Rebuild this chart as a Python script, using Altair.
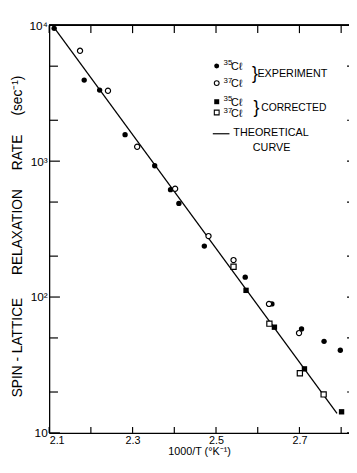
import altair as alt
import pandas as pd

# ---- data ----
exp35_x = [2.112, 2.184, 2.221, 2.282, 2.353, 2.391, 2.411, 2.472, 2.570, 2.634, 2.705, 2.759, 2.798]
exp35_y = [9500, 3950, 3335, 1567, 925, 617, 489, 237, 140, 89, 58.3, 47.2, 40.6]
exp37_x = [2.174, 2.241, 2.311, 2.402, 2.482, 2.542, 2.627, 2.699]
exp37_y = [6490, 3296, 1277, 627, 281, 187, 89, 54.3]
cor35_x = [2.572, 2.640, 2.712, 2.801]
cor35_y = [112, 60, 29.6, 14.3]
cor37_x = [2.542, 2.628, 2.701, 2.758]
cor37_y = [167, 63.7, 27.5, 19.2]
theory_x = [2.108, 2.79]
theory_y = [10000, 13.9]

x_ticks = [2.1, 2.2, 2.3, 2.4, 2.5, 2.6, 2.7, 2.8]
x_labels = [2.1, 2.3, 2.5, 2.7]
y_major = [10, 100, 1000, 10000]
y_minor = [20, 50, 200, 500, 2000, 5000]

W, H = 306, 416
FONT = "Liberation Sans"
NB = "\u00a0"

y_title = ("SPIN" + NB + "-" + NB + "LATTICE" + NB * 6 + "RELAXATION" + NB * 5 +
           "RATE" + NB * 5 + "(sec⁻¹)")

xs = alt.Scale(domain=[2.1, 2.8188], nice=False, zero=False)
ys = alt.Scale(type="log", domain=[10, 10000], nice=False)

x_axis = alt.Axis(values=x_labels, format=".1f", title="1000/T (°K⁻¹)",
                  labelFontSize=11, titleFontSize=11, titlePadding=0, labelPadding=2)
y_axis = alt.Axis(values=y_major,
                  labelExpr="datum.value == 10 ? '10' : datum.value == 100 ? '10²' : datum.value == 1000 ? '10³' : '10⁴'",
                  title=y_title, labelFontSize=12,
                  titleFontSize=14, titleX=-32, titleY=215,
                  titleAngle=270, titleAlign="center", titleBaseline="middle", labelPadding=2)


def df(xv, yv):
    return pd.DataFrame({"x": xv, "y": yv})


X = alt.X("x:Q", scale=xs, axis=x_axis)
Y = alt.Y("y:Q", scale=ys, axis=y_axis)

line = alt.Chart(df(theory_x, theory_y)).mark_line(color="black", strokeWidth=1.3).encode(x=X, y=Y)

e35 = alt.Chart(df(exp35_x, exp35_y)).mark_point(shape="circle", filled=True, size=30, color="black", opacity=1).encode(x=X, y=Y)
e37 = alt.Chart(df(exp37_x, exp37_y)).mark_point(shape="circle", filled=True, size=28, fill="white", stroke="black", strokeWidth=1.2, opacity=1).encode(x=X, y=Y)
c35 = alt.Chart(df(cor35_x, cor35_y)).mark_point(shape="square", filled=True, size=30, color="black", opacity=1).encode(x=X, y=Y)
c37 = alt.Chart(df(cor37_x, cor37_y)).mark_point(shape="square", filled=True, size=28, fill="white", stroke="black", strokeWidth=1.2, opacity=1).encode(x=X, y=Y)

# ---- frame ticks (inward) ----
xt = pd.DataFrame({"x": x_ticks})
ymaj = pd.DataFrame({"y": y_major})
ymin = pd.DataFrame({"y": y_minor})
rule = dict(color="black", strokeWidth=1.2)
bot_ticks = alt.Chart(xt).mark_rule(**rule).encode(x=X, y=alt.value(H), y2=alt.value(H - 6))
top_ticks = alt.Chart(xt).mark_rule(**rule).encode(x=X, y=alt.value(0), y2=alt.value(8))
left_major = alt.Chart(ymaj).mark_rule(**rule).encode(y=Y, x=alt.value(0), x2=alt.value(11))
left_minor = alt.Chart(ymin).mark_rule(**rule).encode(y=Y, x=alt.value(0), x2=alt.value(9))
right_major = alt.Chart(ymaj).mark_rule(**rule).encode(y=Y, x=alt.value(W - 2), x2=alt.value(W))
right_minor = alt.Chart(ymin).mark_rule(**rule).encode(y=Y, x=alt.value(W - 2), x2=alt.value(W))
top_line = alt.Chart(xt).mark_rule(color="black", strokeWidth=1.2).encode(
    x=alt.value(0), x2=alt.value(W), y=alt.value(0))

# ---- legend drawn as annotations ----
one = alt.Data(values=[{}])


def sym(shape, filled, px, py):
    if filled:
        m = alt.Chart(one).mark_point(shape=shape, filled=True, size=26, color="black", opacity=1)
    else:
        m = alt.Chart(one).mark_point(shape=shape, filled=True, size=24, fill="white", stroke="black", strokeWidth=1.1, opacity=1)
    return m.encode(x=alt.value(px), y=alt.value(py))


def txt(t, px, py, size=11, align="left"):
    return alt.Chart(one).mark_text(text=t, font=FONT, fontSize=size, align=align,
                                    baseline="middle", fill="black").encode(x=alt.value(px), y=alt.value(py))


legend = [
    sym("circle", True, 171, 41.5),
    sym("circle", False, 171, 59),
    sym("square", True, 171, 78),
    sym("square", False, 171, 89),
    txt("35", 178, 38.5, 8), txt("Cℓ", 185.5, 42.5, 11),
    txt("37", 178, 56.5, 8), txt("Cℓ", 185.5, 59.5, 11),
    txt("35", 178, 75.5, 8), txt("Cℓ", 185.5, 79, 11),
    txt("37", 178, 87.5, 8), txt("Cℓ", 185.5, 91, 11),
    txt("}", 207, 50, 18),
    txt("EXPERIMENT", 212.5, 49.5, 11),
    txt("}", 208.5, 85, 18),
    txt("CORRECTED", 216.5, 84.5, 10.5),
    txt("THEORETICAL", 188, 109.5, 11),
    txt("CURVE", 227, 125.5, 11, "center"),
    alt.Chart(one).mark_rule(color="black", strokeWidth=1.2).encode(
        x=alt.value(167), x2=alt.value(184), y=alt.value(110.7)),
]

chart = alt.layer(
    line, e35, e37, c35, c37,
    bot_ticks, top_ticks, left_major, left_minor, right_major, right_minor, top_line,
    *legend,
).properties(
    width=W, height=H,
    autosize=alt.AutoSizeParams(type="none"),
    padding={"left": 42, "top": 13, "right": 0, "bottom": 23},
).configure_view(stroke=None).configure_axis(
    grid=False, ticks=False, domainColor="black", domainWidth=1.3,
    labelFont=FONT, labelColor="black",
    titleFont=FONT, titleColor="black", titleFontWeight="normal",
)

chart.save("out.html", embed_options={"renderer": "svg", "actions": False})
